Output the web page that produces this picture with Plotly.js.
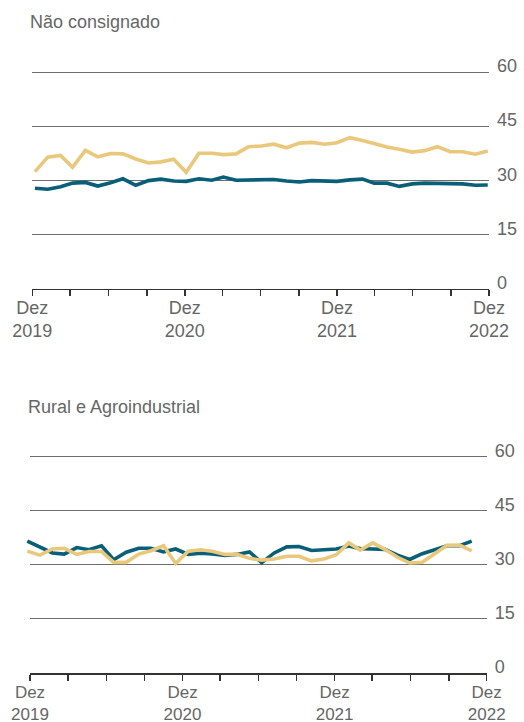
<!DOCTYPE html>
<html>
<head>
<meta charset="utf-8">
<script src="https://cdn.plot.ly/plotly-3.0.1.min.js"></script>
<style>
  html, body { margin: 0; padding: 0; background: #ffffff; }
  #chart { width: 524px; height: 722px; }
</style>
</head>
<body>
<div id="chart"></div>
<script>
// Months: Dec 2019 .. Dec 2022
const months = [
  "2019-12-01","2020-01-01","2020-02-01","2020-03-01","2020-04-01","2020-05-01","2020-06-01",
  "2020-07-01","2020-08-01","2020-09-01","2020-10-01","2020-11-01","2020-12-01",
  "2021-01-01","2021-02-01","2021-03-01","2021-04-01","2021-05-01","2021-06-01",
  "2021-07-01","2021-08-01","2021-09-01","2021-10-01","2021-11-01","2021-12-01",
  "2022-01-01","2022-02-01","2022-03-01","2022-04-01","2022-05-01","2022-06-01",
  "2022-07-01","2022-08-01","2022-09-01","2022-10-01","2022-11-01","2022-12-01"
];

const panelTitles = ["Não consignado", "Rural e Agroindustrial"];

// Panel 1 — Não consignado
const naoConsignadoAmarelo = [32.4, 36.4, 36.9, 33.6, 38.3, 36.5, 37.4, 37.3, 35.9, 34.8, 35.1, 35.8, 32.2,
  37.5, 37.5, 37.1, 37.3, 39.3, 39.5, 40.0, 39.0, 40.3, 40.5, 40.0, 40.4,
  41.8, 41.0, 40.1, 39.2, 38.6, 37.8, 38.2, 39.3, 37.9, 37.9, 37.2, 38.1];
const naoConsignadoAzul = [27.8, 27.5, 28.2, 29.2, 29.4, 28.4, 29.3, 30.4, 28.6, 29.9, 30.3, 29.8, 29.7,
  30.4, 30.0, 30.9, 30.0, 30.0, 30.0, 30.2, 29.8, 29.5, 29.9, 29.8, 29.7,
  30.1, 30.3, 29.2, 29.2, 28.3, 29.0, 29.2, 29.1, 29.0, 29.0, 28.6, 28.7];

// Panel 2 — Rural e Agroindustrial
const ruralAzul = [36.6, 35.0, 33.3, 33.0, 34.8, 34.2, 35.3, 31.4, 33.5, 34.6, 34.6, 33.6, 34.4,
  32.9, 33.2, 33.0, 32.6, 32.9, 33.6, 30.6, 33.3, 35.0, 35.1, 34.0, 34.1,
  34.4, 35.2, 34.5, 34.4, 34.3, 32.7, 31.5, 33.1, 34.3, 35.3, 35.3, 36.6];
const ruralAmarelo = [33.8, 32.7, 34.4, 34.6, 32.9, 33.7, 33.7, 30.7, 30.7, 33.0, 33.9, 35.3, 30.4,
  33.8, 34.2, 33.8, 32.9, 32.9, 31.8, 31.3, 31.6, 32.4, 32.4, 31.1, 31.6,
  32.8, 36.1, 34.1, 36.1, 34.3, 32.1, 30.5, 30.7, 33.1, 35.4, 35.5, 33.9];

// Tick labels
const xTickVals = ["2019-12-01","2020-03-01","2020-06-01","2020-09-01","2020-12-01","2021-03-01",
  "2021-06-01","2021-09-01","2021-12-01","2022-03-01","2022-06-01","2022-09-01","2022-12-01"];
const xTickText = ["Dez<br>2019","","","","Dez<br>2020","","","","Dez<br>2021","","","","Dez<br>2022"];
const yTickVals = [0, 15, 30, 45, 60];
const yTickText = ["0", "15", "30", "45", "60"];

const W = 524, H = 722;
const AZUL = "#0a5f78";
const AMARELO = "#eac87b";
const TXT = "#666666";
const FONT = "Liberation Sans, Arial, sans-serif";

const px = v => v / W;
const py = v => 1 - v / H;
const Y_MAX = 60.5;

const lineStyle = c => ({ color: c, width: 3.6 });

const traces = [
  // tick/grid subplot top (empty)
  { x: [], y: [], xaxis: "x", yaxis: "y", type: "scatter", mode: "lines", showlegend: false, hoverinfo: "skip" },
  // data top
  { x: months, y: naoConsignadoAmarelo, xaxis: "x2", yaxis: "y2", type: "scatter", mode: "lines",
    line: lineStyle(AMARELO), showlegend: false },
  { x: months, y: naoConsignadoAzul, xaxis: "x2", yaxis: "y2", type: "scatter", mode: "lines",
    line: lineStyle(AZUL), showlegend: false },
  // tick/grid subplot bottom (empty)
  { x: [], y: [], xaxis: "x3", yaxis: "y3", type: "scatter", mode: "lines", showlegend: false, hoverinfo: "skip" },
  // data bottom
  { x: months, y: ruralAzul, xaxis: "x4", yaxis: "y4", type: "scatter", mode: "lines",
    line: lineStyle(AZUL), showlegend: false },
  { x: months, y: ruralAmarelo, xaxis: "x4", yaxis: "y4", type: "scatter", mode: "lines",
    line: lineStyle(AMARELO), showlegend: false }
];

const tickXAxis = (domain, anchor, standoff, fsize) => ({
  domain: domain, anchor: anchor, type: "date",
  range: ["2019-12-01", "2022-12-01"],
  tickmode: "array", tickvals: xTickVals, ticktext: xTickText,
  showgrid: false, zeroline: false,
  showline: true, linecolor: "#333333", linewidth: 1.5,
  ticks: "outside", ticklen: 6, tickwidth: 1.5, tickcolor: "#333333",
  ticklabelstandoff: standoff,
  tickfont: { family: FONT, size: fsize, color: TXT },
  fixedrange: true
});
const tickYAxis = (domain, anchor) => ({
  domain: domain, anchor: anchor, range: [0, Y_MAX],
  side: "right", tickmode: "array", tickvals: yTickVals, ticktext: yTickText,
  showgrid: true, gridcolor: "#6e6e6e", gridwidth: 1,
  zeroline: false, showline: false, ticks: "",
  ticklabelstandoff: 7, ticklabelshift: -6,
  tickfont: { family: FONT, size: 18, color: TXT },
  fixedrange: true
});
const dataXAxis = (domain, anchor, range) => ({
  domain: domain, anchor: anchor, type: "date", range: range,
  visible: false, showgrid: false, zeroline: false, fixedrange: true
});
const dataYAxis = (domain, anchor) => ({
  domain: domain, anchor: anchor, range: [0, Y_MAX],
  visible: false, showgrid: false, zeroline: false, fixedrange: true
});

const topY = [py(288.5), py(70.2)];
const botY = [py(673), py(454.9)];

const layout = {
  width: W, height: H,
  margin: { l: 0, r: 0, t: 0, b: 0 },
  paper_bgcolor: "#ffffff",
  plot_bgcolor: "rgba(0,0,0,0)",
  showlegend: false,
  font: { family: FONT, color: TXT },
  xaxis: tickXAxis([px(32.3), px(489)], "y", -4, 18),
  yaxis: tickYAxis(topY, "x"),
  xaxis2: dataXAxis([px(30), px(489)], "y2", ["2019-11-19", "2022-12-04"]),
  yaxis2: dataYAxis(topY, "x2"),
  xaxis3: tickXAxis([px(30), px(486.7)], "y3", -3, 17),
  yaxis3: tickYAxis(botY, "x3"),
  xaxis4: dataXAxis([px(25), px(486.7)], "y4", ["2019-11-25 08:00", "2023-01-07"]),
  yaxis4: dataYAxis(botY, "x4"),
  annotations: [
    { text: panelTitles[0], xref: "paper", yref: "paper", x: px(27.5), y: py(22),
      xanchor: "left", yanchor: "middle", showarrow: false,
      font: { family: FONT, size: 18, color: TXT } },
    { text: panelTitles[1], xref: "paper", yref: "paper", x: px(25.5), y: py(407),
      xanchor: "left", yanchor: "middle", showarrow: false,
      font: { family: FONT, size: 18, color: TXT } }
  ]
};

Plotly.newPlot("chart", traces, layout, { displayModeBar: false, staticPlot: true });
</script>
</body>
</html>
